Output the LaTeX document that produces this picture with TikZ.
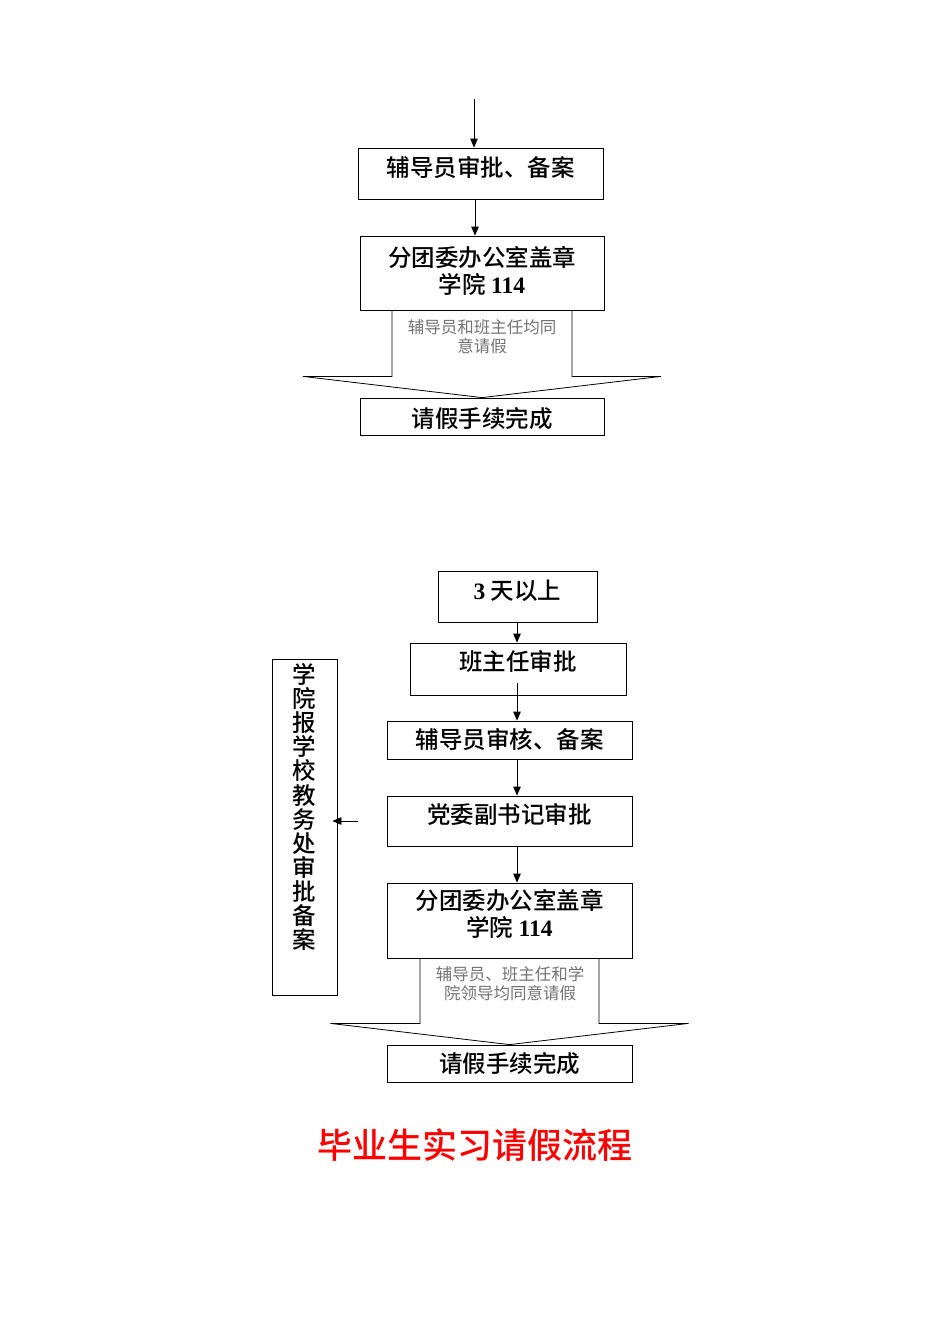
\documentclass[tikz,border=0pt]{standalone}
\usepackage{fontspec}
\setmainfont{Noto Sans CJK SC}[BoldFont={Noto Sans CJK SC Medium}]
\newfontfamily\numfont{Liberation Serif}
\usetikzlibrary{arrows.meta, positioning, calc}

\begin{document}
\begin{tikzpicture}[
    x=1pt, y=-1pt, % one unit = one pixel of the reference, y downwards
    box/.style={draw, line width=0.8pt, inner sep=0pt}, % Style for step boxes
    txt/.style={font=\bfseries\fontsize{23.5}{27}\selectfont, align=center}, % Box text
    note/.style={font=\fontsize{16.5}{19}\selectfont, text=black!55, align=center}, % Grey text
    arr/.style={-{Triangle[length=9pt, width=7.5pt]}, line width=0.8pt} % Connector
]
    \useasboundingbox (0,0) rectangle (950,1344);

    % ---- Short leave ----
    \coordinate (in) at (474,99);
    \node[box, minimum width=245pt, minimum height=51pt,
          label={[txt, yshift=6pt]center:辅导员审批、备案}] (fdy) at (480.5,173.5) {};
    \node[box, minimum width=244pt, minimum height=74pt,
          label={[txt, yshift=2pt]center:{分团委办公室盖章\\学院 {\numfont 114}}}] (gz) at (482,273) {};
    \node[box, minimum width=244pt, minimum height=37pt,
          label={[txt, yshift=-2pt]center:请假手续完成}] (done) at (482,416.5) {};

    \draw[arr] (in) -- (in |- fdy.north);
    \draw[arr] ([xshift=-5.5pt]fdy.south) -- ([xshift=-5.5pt]fdy.south |- gz.north);

    % Block arrow under the stamp box
    \draw[line width=0.8pt] ($(gz.south)+(-90,0)$) -- ($(gz.south)+(-90,66)$)
        -- ($(gz.south)+(-179,66)$) -- (done.north) -- ($(gz.south)+(179,66)$)
        -- ($(gz.south)+(90,66)$) -- ($(gz.south)+(90,0)$);
    \node[note] (agree) at (482,337) {辅导员和班主任均同\\意请假};

    % ---- Leave of more than 3 days ----
    \node[box, minimum width=159pt, minimum height=51pt,
          label={[txt, yshift=6pt]center:{{\numfont 3} 天以上}}] (over3) at (517.5,596.5) {};
    \node[box, minimum width=216pt, minimum height=52pt,
          label={[txt, yshift=8pt]center:班主任审批}] (bzr) at (518,669) {};
    \node[box, minimum width=245pt, minimum height=38pt,
          label={[txt]center:辅导员审核、备案}] (fdy2) at (509.5,740) {};
    \node[box, minimum width=245pt, minimum height=50pt,
          label={[txt, yshift=7pt]center:党委副书记审批}] (dw) at (509.5,821) {};
    \node[box, minimum width=245pt, minimum height=75pt,
          label={[txt, yshift=7pt]center:{分团委办公室盖章\\学院 {\numfont 114}}}] (gz2) at (509.5,920.5) {};
    \node[box, minimum width=245pt, minimum height=37pt,
          label={[txt]center:请假手续完成}] (done2) at (509.5,1063.5) {};
    \node[box, minimum width=65pt, minimum height=336pt,
          label={[txt, font=\bfseries\fontsize{23.5}{24.1}\selectfont, yshift=20pt]center:{学\\院\\报\\学\\校\\教\\务\\处\\审\\批\\备\\案}}] (jwc) at (304.5,827) {};

    \coordinate (col) at (517,0);
    \draw[arr] (over3.south -| col) -- (bzr.north -| col);
    \draw[arr] ($(bzr.south -| col)+(0,-12)$) -- (fdy2.north -| col);
    \draw[arr] (fdy2.south -| col) -- (dw.north -| col);
    \draw[arr] (dw.south -| col) -- (gz2.north -| col);

    % Side arrow to the school office box
    \coordinate (dwl) at (358,821);
    \draw[arr, shorten >=-5pt] (dwl) -- (jwc.east |- dwl);

    % Block arrow under the second stamp box
    \draw[line width=0.8pt] ($(gz2.south)+(-89.5,0)$) -- ($(gz2.south)+(-89.5,65)$)
        -- ($(gz2.south)+(-179,65)$) -- (done2.north) -- ($(gz2.south)+(179,65)$)
        -- ($(gz2.south)+(89.5,65)$) -- ($(gz2.south)+(89.5,0)$);
    \node[note] (agree2) at (510,984) {辅导员、班主任和学\\院领导均同意请假};

    % Title
    \node[font=\bfseries\fontsize{35}{40}\selectfont, text=red] (title) at (475,1145) {毕业生实习请假流程};

\end{tikzpicture}
\end{document}
